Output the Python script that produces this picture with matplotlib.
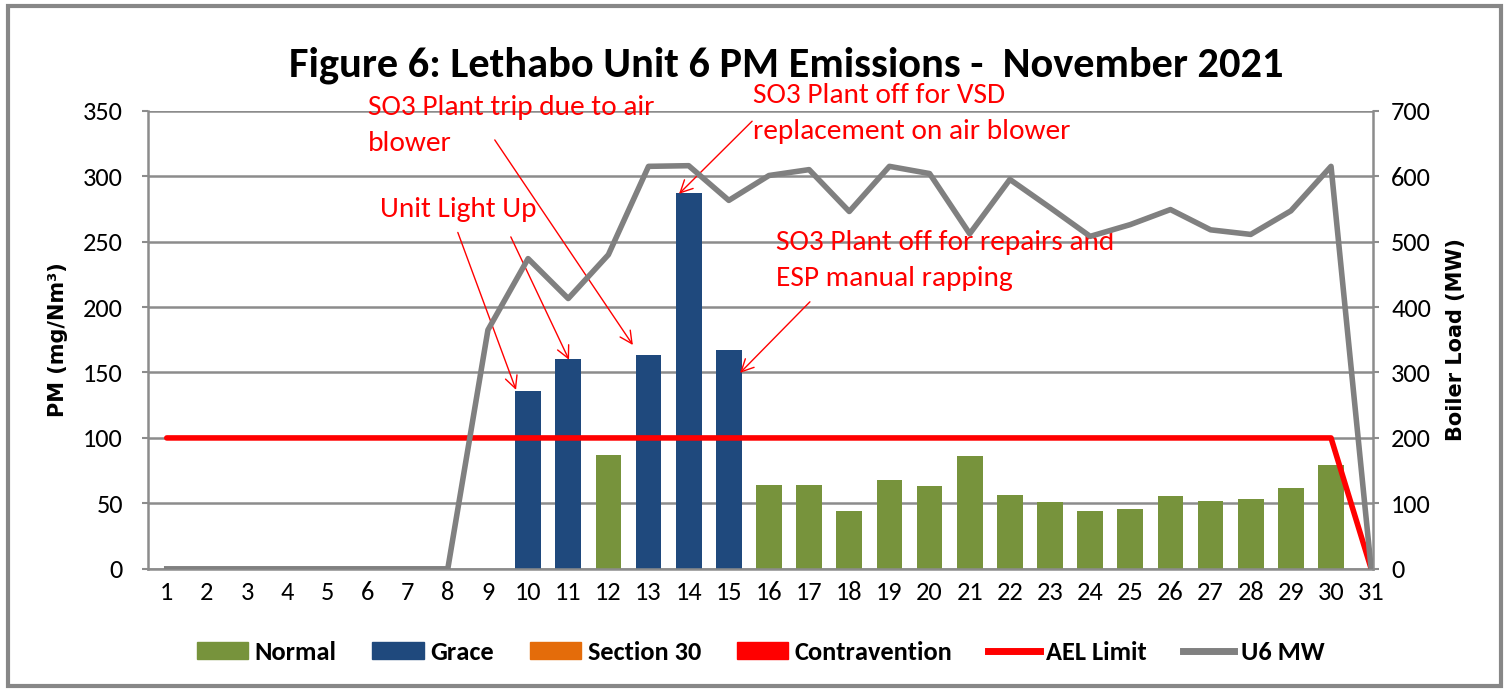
import matplotlib
matplotlib.use("Agg")
import matplotlib.pyplot as plt
from matplotlib.patches import Patch, Rectangle
from matplotlib.lines import Line2D
import numpy as np

plt.rcParams['font.family'] = ['Carlito', 'DejaVu Sans']

# Data
days = list(range(1, 32))
normal_pm = [0, 0, 0, 0, 0, 0, 0, 0, 0, 0, 0, 87, 0, 0, 0,
             64, 64, 44, 68, 63, 86, 56.5, 51, 44, 46, 56, 52, 53, 62, 79.5, 0]
grace_pm = [0, 0, 0, 0, 0, 0, 0, 0, 0, 136, 160, 0, 163, 287, 167,
            0, 0, 0, 0, 0, 0, 0, 0, 0, 0, 0, 0, 0, 0, 0, 0]
section30_pm = [0] * 31
contravention_pm = [0] * 31
ael_limit = [100] * 30 + [0]
u6_mw = [0, 0, 0, 0, 0, 0, 0, 0, 365, 474, 413, 480, 615, 616, 563,
         601, 610, 546, 615, 604, 512, 595, 552, 508, 526, 549, 518, 511, 547, 615, 0]

c_normal = '#77933C'
c_grace = '#1F497D'
c_s30 = '#E46C0A'
c_contra = '#FF0000'
c_grey = '#808080'
c_grid = '#8C8C8C'
red = '#FF0000'

fig = plt.figure(figsize=(15.09, 6.92), dpi=100)
ax = fig.add_axes([0.098, 0.178, 0.812, 0.662])

bw = 0.64
ax.bar(days, normal_pm, width=bw, color=c_normal, zorder=2)
ax.bar(days, grace_pm, width=bw, color=c_grace, zorder=2)
ax.bar(days, section30_pm, width=bw, color=c_s30, zorder=2)
ax.bar(days, contravention_pm, width=bw, color=c_contra, zorder=2)
ax.plot(days, ael_limit, color=red, lw=4, zorder=3, solid_capstyle='round')

ax.set_xlim(0.53, 31.05)
ax.set_ylim(0, 350)
ax.set_yticks(np.arange(0, 351, 50))
ax.set_xticks(days)
ax.set_xticklabels([str(d) for d in days])
ax.grid(axis='y', color=c_grid, lw=1.8, zorder=0)
ax.set_axisbelow(True)
for s in ['top', 'right']:
    ax.spines[s].set_visible(False)
for s in ['left', 'bottom']:
    ax.spines[s].set_color(c_grid)
    ax.spines[s].set_linewidth(1.8)
ax.tick_params(axis='y', labelsize=19, length=4, color=c_grid, width=1.5, pad=14)
ax.tick_params(axis='x', labelsize=19, length=0, pad=9)
ax.set_ylabel('PM (mg/Nm³)', fontsize=15, fontweight='bold',
              family=['DejaVu Sans'], labelpad=11)

ax2 = ax.twinx()
ax2.plot(days, u6_mw, color=c_grey, lw=4, zorder=4)
ax2.set_ylim(0, 700)
ax2.set_yticks(np.arange(0, 701, 100))
for s in ['top', 'left', 'bottom']:
    ax2.spines[s].set_visible(False)
ax2.spines['right'].set_color(c_grid)
ax2.spines['right'].set_linewidth(1.8)
ax2.tick_params(axis='y', labelsize=19, length=4, color=c_grid, width=1.5, pad=9)
ax2.set_ylabel('Boiler Load (MW)', fontsize=15, fontweight='bold',
               family=['DejaVu Sans'], labelpad=11)

fig.text(0.521, 1 - 77 / 692, 'Figure 6: Lethabo Unit 6 PM Emissions -  November 2021',
         ha='center', va='baseline', fontsize=30.5, fontweight='bold')

# annotations (one text per line, baseline placed, 36 px apart)
tfs = 21.2
step = 36 / 1.309


def note(x, y, lines):
    for i, t in enumerate(lines):
        ax.text(x, y - i * step, t, color=red, fontsize=tfs, ha='left',
                va='baseline', zorder=6, clip_on=False)


note(6.01, 346.8, ['SO3 Plant trip due to air', 'blower'])
note(6.31, 268.5, ['Unit Light Up'])
note(15.6, 356.0, ['SO3 Plant off for VSD', 'replacement on air blower'])
note(16.18, 243.7, ['SO3 Plant off for repairs and', 'ESP manual rapping'])

arrows = [((8.25, 257), (9.70, 136.7)),
          ((9.57, 253.6), (11.02, 159.7)),
          ((9.17, 327.7), (12.61, 171)),
          ((15.58, 342), (13.76, 286.5)),
          ((17.02, 204), (15.28, 149.7))]
for tail, tip in arrows:
    ax.annotate('', xy=tip, xytext=tail, zorder=6,
                arrowprops=dict(arrowstyle='->', color=red, lw=1,
                                mutation_scale=22, shrinkA=0, shrinkB=0))

handles = [Patch(color=c_normal, label='Normal'),
           Patch(color=c_grace, label='Grace'),
           Patch(color=c_s30, label='Section 30'),
           Patch(color=c_contra, label='Contravention'),
           Line2D([], [], color=red, lw=5, label='AEL Limit'),
           Line2D([], [], color=c_grey, lw=5, label='U6 MW')]
fig.legend(handles=handles, loc='center', bbox_to_anchor=(0.504, 1 - 652 / 692), ncol=6,
           frameon=False, prop={'size': 19, 'weight': 'bold'},
           handlelength=1.95, handleheight=0.6, columnspacing=1.35, handletextpad=0.25)

fig.patches.append(Rectangle((0.005, 0.008), 0.99, 0.984, transform=fig.transFigure,
                             fill=False, edgecolor='#878787', lw=3))

fig.savefig('out.png', dpi=100, facecolor='white')
